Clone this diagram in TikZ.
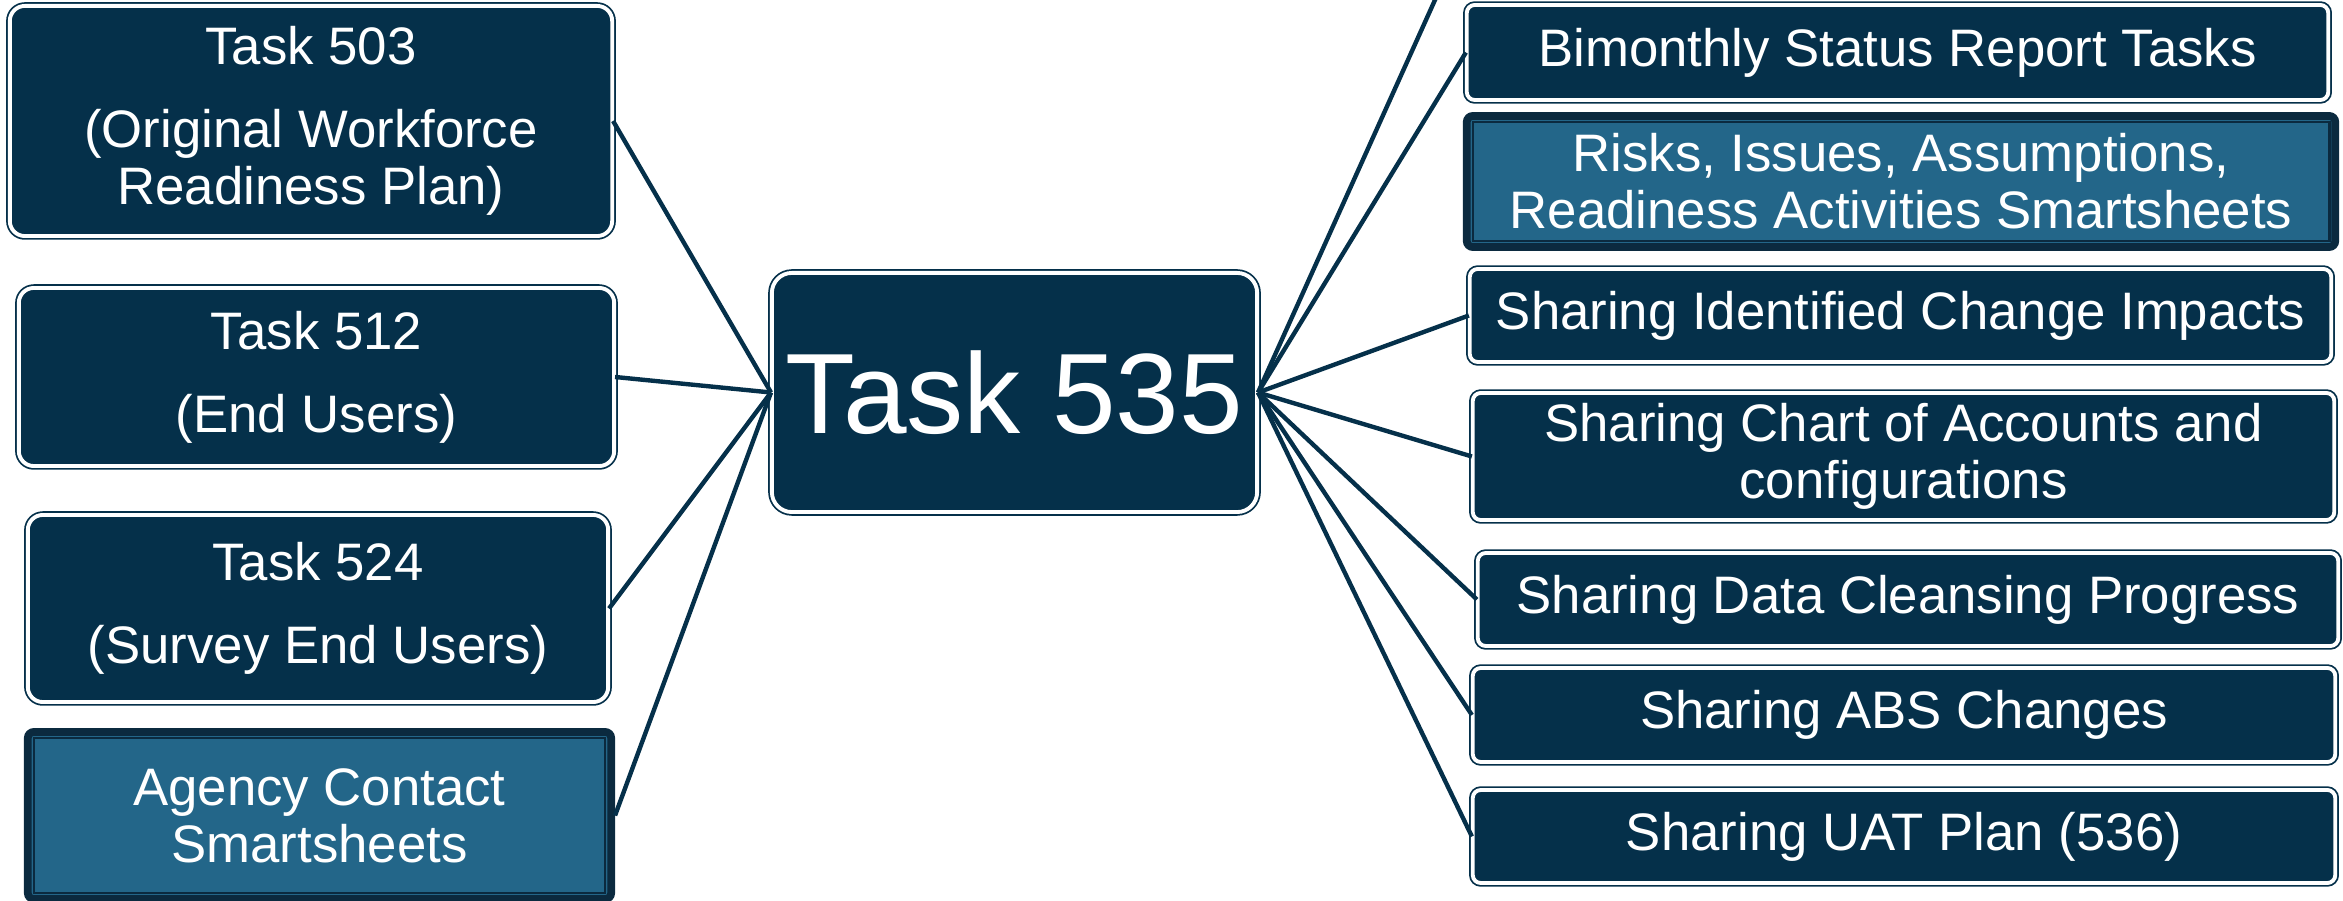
\documentclass[tikz,border=0pt]{standalone}
\usepackage{fontspec}
\setmainfont{Liberation Sans}
\usepackage{xcolor}
\definecolor{taskNavy}{HTML}{05304A}
\definecolor{sheetBlue}{HTML}{236689}
\definecolor{sheetEdge}{HTML}{0B2A3F}
\usetikzlibrary{positioning}
\tikzset{
    taskbox/.style={
        draw=taskNavy,
        double=white,
        double distance=1.1pt,
        line width=0.5pt,
        fill=taskNavy,
        rectangle,
        rounded corners=1.5mm,
        align=center,
        text=white,
        inner sep=0pt,
        font=\fontsize{15}{16.2}\selectfont
    },
    itembox/.style={
        taskbox,
        rounded corners=0.8mm
    },
    sheetbox/.style={
        draw=sheetEdge,
        line width=2.2pt,
        fill=sheetBlue,
        rectangle,
        rounded corners=0.6mm,
        align=center,
        text=white,
        inner sep=0pt,
        font=\fontsize{15}{16.2}\selectfont
    },
    sheetframe/.style={
        draw=sheetEdge,
        line width=0.7pt
    },
    link/.style={
        draw=taskNavy,
        line width=1.25pt
    }
}

\begin{document}
\begin{tikzpicture}[x=0.01cm, y=-0.01cm]
    \useasboundingbox (0,0) rectangle (2343,901);

    % Center task
    \node[taskbox, rounded corners=2mm, minimum width=4.85cm, minimum height=2.39cm,
          font=\fontsize{32.5}{35}\selectfont] (t535) at (1014.5,392.5) {Task 535};

    % Earlier tasks on the left
    \node[taskbox, minimum width=6.02cm, minimum height=2.30cm] (t503) at (311,121)
        {Task 503\\[0.26cm](Original Workforce\\Readiness Plan)};
    \node[taskbox, minimum width=5.95cm, minimum height=1.78cm] (t512) at (316.5,377)
        {Task 512\\[0.26cm](End Users)};
    \node[taskbox, minimum width=5.80cm, minimum height=1.87cm] (t524) at (318,608.5)
        {Task 524\\[0.26cm](Survey End Users)};
    \node[sheetbox, minimum width=5.83cm, minimum height=1.67cm] (agency) at (319.5,815.5)
        {Agency Contact\\Smartsheets};

    % Shared items on the right
    \node[itembox, minimum width=8.61cm, minimum height=0.95cm] (bimonthly) at (1897.5,52.5)
        {Bimonthly Status Report Tasks};
    \node[sheetbox, minimum width=8.68cm, minimum height=1.31cm] (risks) at (1901,181.5)
        {Risks, Issues, Assumptions,\\Readiness Activities Smartsheets};
    \node[itembox, minimum width=8.61cm, minimum height=0.93cm] (impacts) at (1900.5,315.5)
        {Sharing Identified Change Impacts};
    \node[itembox, minimum width=8.61cm, minimum height=1.27cm] (accounts) at (1903.5,456.5)
        {Sharing Chart of Accounts and\\configurations};
    \node[itembox, minimum width=8.60cm, minimum height=0.93cm] (cleansing) at (1908,599.5)
        {Sharing Data Cleansing Progress};
    \node[itembox, minimum width=8.62cm, minimum height=0.94cm] (abs) at (1904,715)
        {Sharing ABS Changes};
    \node[itembox, minimum width=8.62cm, minimum height=0.93cm] (uat) at (1904,836.5)
        {Sharing UAT Plan (536)};

    % Inner frames of the smartsheet boxes
    \draw[sheetframe] ([shift={(2.8pt,-2.8pt)}]agency.north west) rectangle ([shift={(-2.8pt,2.8pt)}]agency.south east);
    \draw[sheetframe] ([shift={(2.8pt,-2.8pt)}]risks.north west) rectangle ([shift={(-2.8pt,2.8pt)}]risks.south east);

    % Connectors
    \coordinate (offtop) at (1453,-40);
    \foreach \src in {t503, t512, t524, agency}
        \draw[link] (\src.east) -- (t535.west);
    \foreach \dst in {offtop, bimonthly.west, impacts.west, accounts.west, cleansing.west, abs.west, uat.west}
        \draw[link] (t535.east) -- (\dst);
\end{tikzpicture}
\end{document}
